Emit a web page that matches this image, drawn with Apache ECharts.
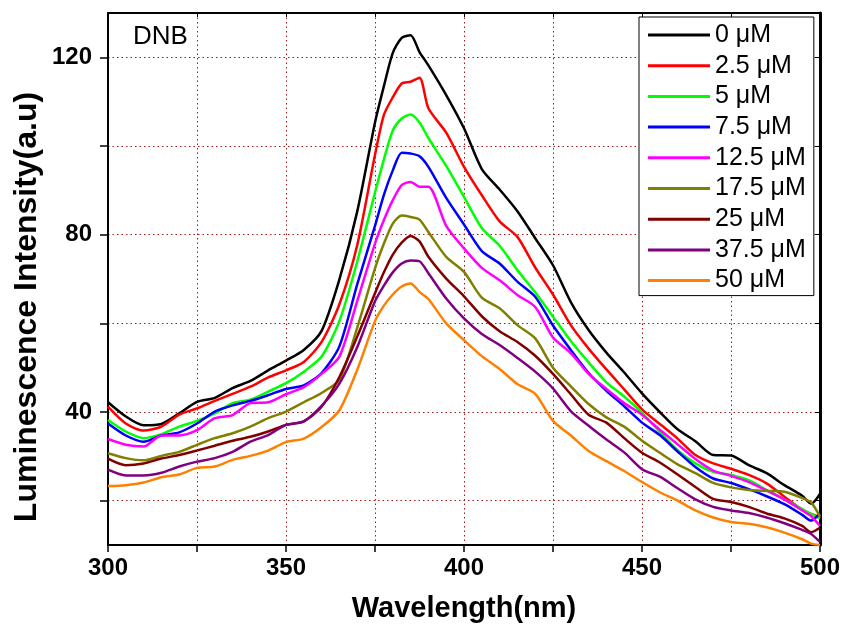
<!DOCTYPE html>
<html>
<head>
<meta charset="utf-8">
<script src="https://cdn.jsdelivr.net/npm/echarts@6/dist/echarts.min.js"></script>
<style>
html,body{margin:0;padding:0;background:#fff;}
#c{width:846px;height:628px;}
</style>
</head>
<body>
<div id="c"></div>
<script>
// ---- data ----
const wavelengths = [300,305,310,315,320,325,330,335,340,345,350,355,360,365,370,375,377.5,380,382.5,385,387.5,390,395,400,405,410,415,420,425,430,435,440,445,450,455,460,465,470,475,480,485,490,495,497.5,500];

const seriesNames = ['0 μM','2.5 μM','5 μM','7.5 μM','12.5 μM','17.5 μM','25 μM','37.5 μM','50 μM'];
const seriesColors = ['#000000','#ff0000','#00ff00','#0000ff','#ff00ff','#808000','#800000','#800080','#ff8000'];

const c0 = [42.2,39.0,37.0,37.3,39.7,42.3,43.2,45.4,47.0,49.4,51.6,54.0,58.3,69.9,85.2,105.3,113.5,121.0,124.4,125.0,121.2,118.2,111.5,104.0,94.8,90.2,85.3,79.2,73.1,64.8,58.5,53.4,48.9,44.2,40.0,36.1,33.4,30.3,30.2,28.0,26.2,23.5,21.1,19.3,21.5];
const c2_5 = [41.2,37.4,35.8,36.7,39.4,40.8,42.5,44.1,45.7,47.8,49.4,51.3,55.8,64.3,77.6,98.0,107.0,111.0,114.1,114.5,115.4,108.5,103.0,95.3,88.9,83.0,79.5,72.6,66.5,59.6,54.3,49.6,45.1,40.6,37.3,34.0,30.3,28.4,27.2,25.8,23.9,20.9,18.0,17.0,16.2];
const c5 = [38.2,35.6,34.1,35.0,36.7,38.0,39.7,42.0,42.8,44.6,46.5,49.1,52.5,60.5,73.9,89.5,97.0,103.5,106.2,107.1,105.3,101.8,95.5,88.5,81.5,77.5,72.0,67.0,61.5,56.0,51.2,46.7,43.5,39.8,35.5,31.4,28.4,26.5,25.8,24.6,22.4,20.3,18.1,17.0,16.0];
const c7_5 = [37.4,34.7,33.3,34.7,35.4,37.4,40.1,41.5,42.5,43.8,45.2,46.0,48.8,54.8,68.8,82.0,89.0,94.5,98.5,98.3,97.7,95.3,88.3,82.3,76.3,73.5,69.4,66.0,59.5,54.0,48.8,44.8,41.3,37.6,34.8,31.1,27.6,25.0,24.0,22.6,21.0,19.2,16.8,15.5,17.2];
const c12_5 = [33.9,32.6,32.2,34.7,34.7,35.9,38.6,39.3,42.0,42.2,44.0,45.6,48.6,52.5,65.0,78.0,83.3,87.8,91.2,91.9,90.8,90.8,82.0,76.9,72.5,69.7,66.4,63.7,56.8,53.3,48.6,45.2,42.0,39.4,36.0,32.7,29.4,26.8,25.6,24.2,22.3,20.3,17.8,16.5,14.3];
const c17_5 = [30.7,29.6,29.1,30.1,31.0,32.6,34.1,35.2,36.7,38.6,40.1,42.2,44.3,47.3,59.0,72.4,78.0,82.5,84.3,84.0,83.4,80.6,75.0,71.6,65.8,63.4,59.6,56.6,50.0,45.8,41.8,38.8,36.7,33.5,30.8,28.2,26.2,24.0,23.0,22.4,22.2,22.0,20.6,19.6,16.4];
const c25 = [29.5,28.0,28.4,29.5,30.3,31.3,32.4,33.5,34.4,35.6,37.1,37.9,41.2,47.9,57.0,66.8,71.5,75.5,78.2,79.7,78.5,75.0,70.1,66.1,61.6,58.2,55.8,52.7,48.6,44.0,39.4,37.6,34.1,30.8,28.6,25.9,23.1,20.4,19.7,18.6,17.1,16.0,14.3,12.9,13.9];
const c37_5 = [27.0,25.7,25.7,26.3,27.7,28.8,29.6,31.0,33.3,34.8,37.1,37.9,41.4,46.4,54.6,65.0,68.5,71.5,73.5,74.2,74.0,71.3,65.6,61.1,57.6,55.1,52.2,49.1,45.3,40.2,36.9,33.8,30.9,27.1,25.4,22.8,20.3,18.6,17.8,17.2,16.2,14.9,13.4,12.5,10.7];
const c50 = [23.3,23.5,24.1,25.3,25.9,27.4,27.7,29.2,30.1,31.3,33.2,34.0,36.6,40.4,49.5,60.5,64.0,66.5,68.3,69.0,67.1,65.5,60.0,56.2,52.6,49.7,46.3,44.1,38.0,34.7,31.2,28.9,26.7,24.2,21.9,20.0,17.8,16.2,15.2,14.8,14.0,12.8,11.3,10.3,10.0];

const allValues = [c0,c2_5,c5,c7_5,c12_5,c17_5,c25,c37_5,c50];

const xMin = 300, xMax = 500, xStep = 25, xLabelStep = 50;
const yMin = 10, yMax = 130, yLabelStep = 40;
const plotTitle = 'DNB';
const xTitle = 'Wavelength(nm)';
const yTitle = 'Luminescence Intensity(a.u)';

// ---- chart ----
const chart = echarts.init(document.getElementById('c'), null, {renderer:'canvas'});
const FONT = 'Liberation Sans, Arial, Helvetica, sans-serif';
const gridColor = '#a01818';

const series = allValues.map((vals, i) => ({
  name: seriesNames[i],
  type: 'line',
  data: wavelengths.map((w, j) => [w, vals[j]]),
  showSymbol: false,
  symbol: 'none',
  smooth: 0.25,
  lineStyle: {color: seriesColors[i], width: 2.5},
  itemStyle: {color: seriesColors[i]},
  emphasis: {disabled: true},
  z: 3
}));

chart.setOption({
  animation: false,
  backgroundColor: '#fff',
  grid: {left: 108, right: 26, top: 13, bottom: 81, containLabel: false},
  xAxis: [{
    type: 'value', min: xMin, max: xMax, interval: xStep,
    axisLine: {show: true, onZero: false, lineStyle: {color: '#000', width: 2}},
    axisTick: {show: true, inside: false, length: 7, lineStyle: {color: '#000', width: 1.5}},
    axisLabel: {
      margin: 11, color: '#000', fontFamily: FONT, fontWeight: 'bold', fontSize: 24,
      formatter: v => (v % xLabelStep === 0 ? String(v) : '')
    },
    splitLine: {show: true, lineStyle: {color: gridColor, width: 1, type: [1.5, 3]}},
    name: xTitle, nameLocation: 'middle', nameGap: 49,
    nameTextStyle: {color: '#000', fontFamily: FONT, fontWeight: 'bold', fontSize: 29}
  }, {
    type: 'value', position: 'top', min: xMin, max: xMax, interval: xStep,
    axisLine: {show: true, onZero: false, lineStyle: {color: '#000', width: 2}},
    axisTick: {show: true, inside: true, length: 4, lineStyle: {color: '#000', width: 1}},
    axisLabel: {show: false}, splitLine: {show: false}
  }],
  yAxis: [{
    type: 'value', min: yMin, max: yMax, splitNumber: 6,
    axisLine: {show: true, onZero: false, lineStyle: {color: '#000', width: 2}},
    axisTick: {show: true, inside: false, length: 8, lineStyle: {color: '#000', width: 1.5}},
    axisLabel: {
      margin: 16, color: '#000', fontFamily: FONT, fontWeight: 'bold', fontSize: 24,
      showMinLabel: false, showMaxLabel: false,
      formatter: v => (v % yLabelStep === 0 ? String(v) : '')
    },
    splitLine: {show: true, lineStyle: {color: gridColor, width: 1, type: [1.5, 3]}}
  }, {
    type: 'value', position: 'right', min: yMin, max: yMax, splitNumber: 6,
    axisLine: {show: true, onZero: false, lineStyle: {color: '#000', width: 3}},
    axisTick: {show: true, inside: true, length: 5, lineStyle: {color: '#000', width: 1}},
    axisLabel: {show: false}, splitLine: {show: false}
  }],
  legend: {
    orient: 'vertical', left: 639, top: 17,
    data: seriesNames.map(n => ({name: n, icon: 'rect'})),
    itemWidth: 62, itemHeight: 3, itemGap: 4.7,
    padding: [5, 8, 2, 9],
    backgroundColor: '#fff', borderColor: '#000', borderWidth: 1,
    textStyle: {color: '#000', fontFamily: FONT, fontSize: 25, lineHeight: 26},
    selectedMode: false
  },
  graphic: [{
    type: 'text', left: 133, top: 24, z: 10,
    style: {text: plotTitle, font: '26px ' + FONT, fill: '#000'}
  }, {
    type: 'text', x: 27, y: 307, rotation: Math.PI / 2, z: 10,
    style: {text: yTitle, font: 'bold 32px ' + FONT, fill: '#000',
      textAlign: 'center', textVerticalAlign: 'middle', align: 'center', verticalAlign: 'middle'}
  }],
  series: series
});
</script>
</body>
</html>
